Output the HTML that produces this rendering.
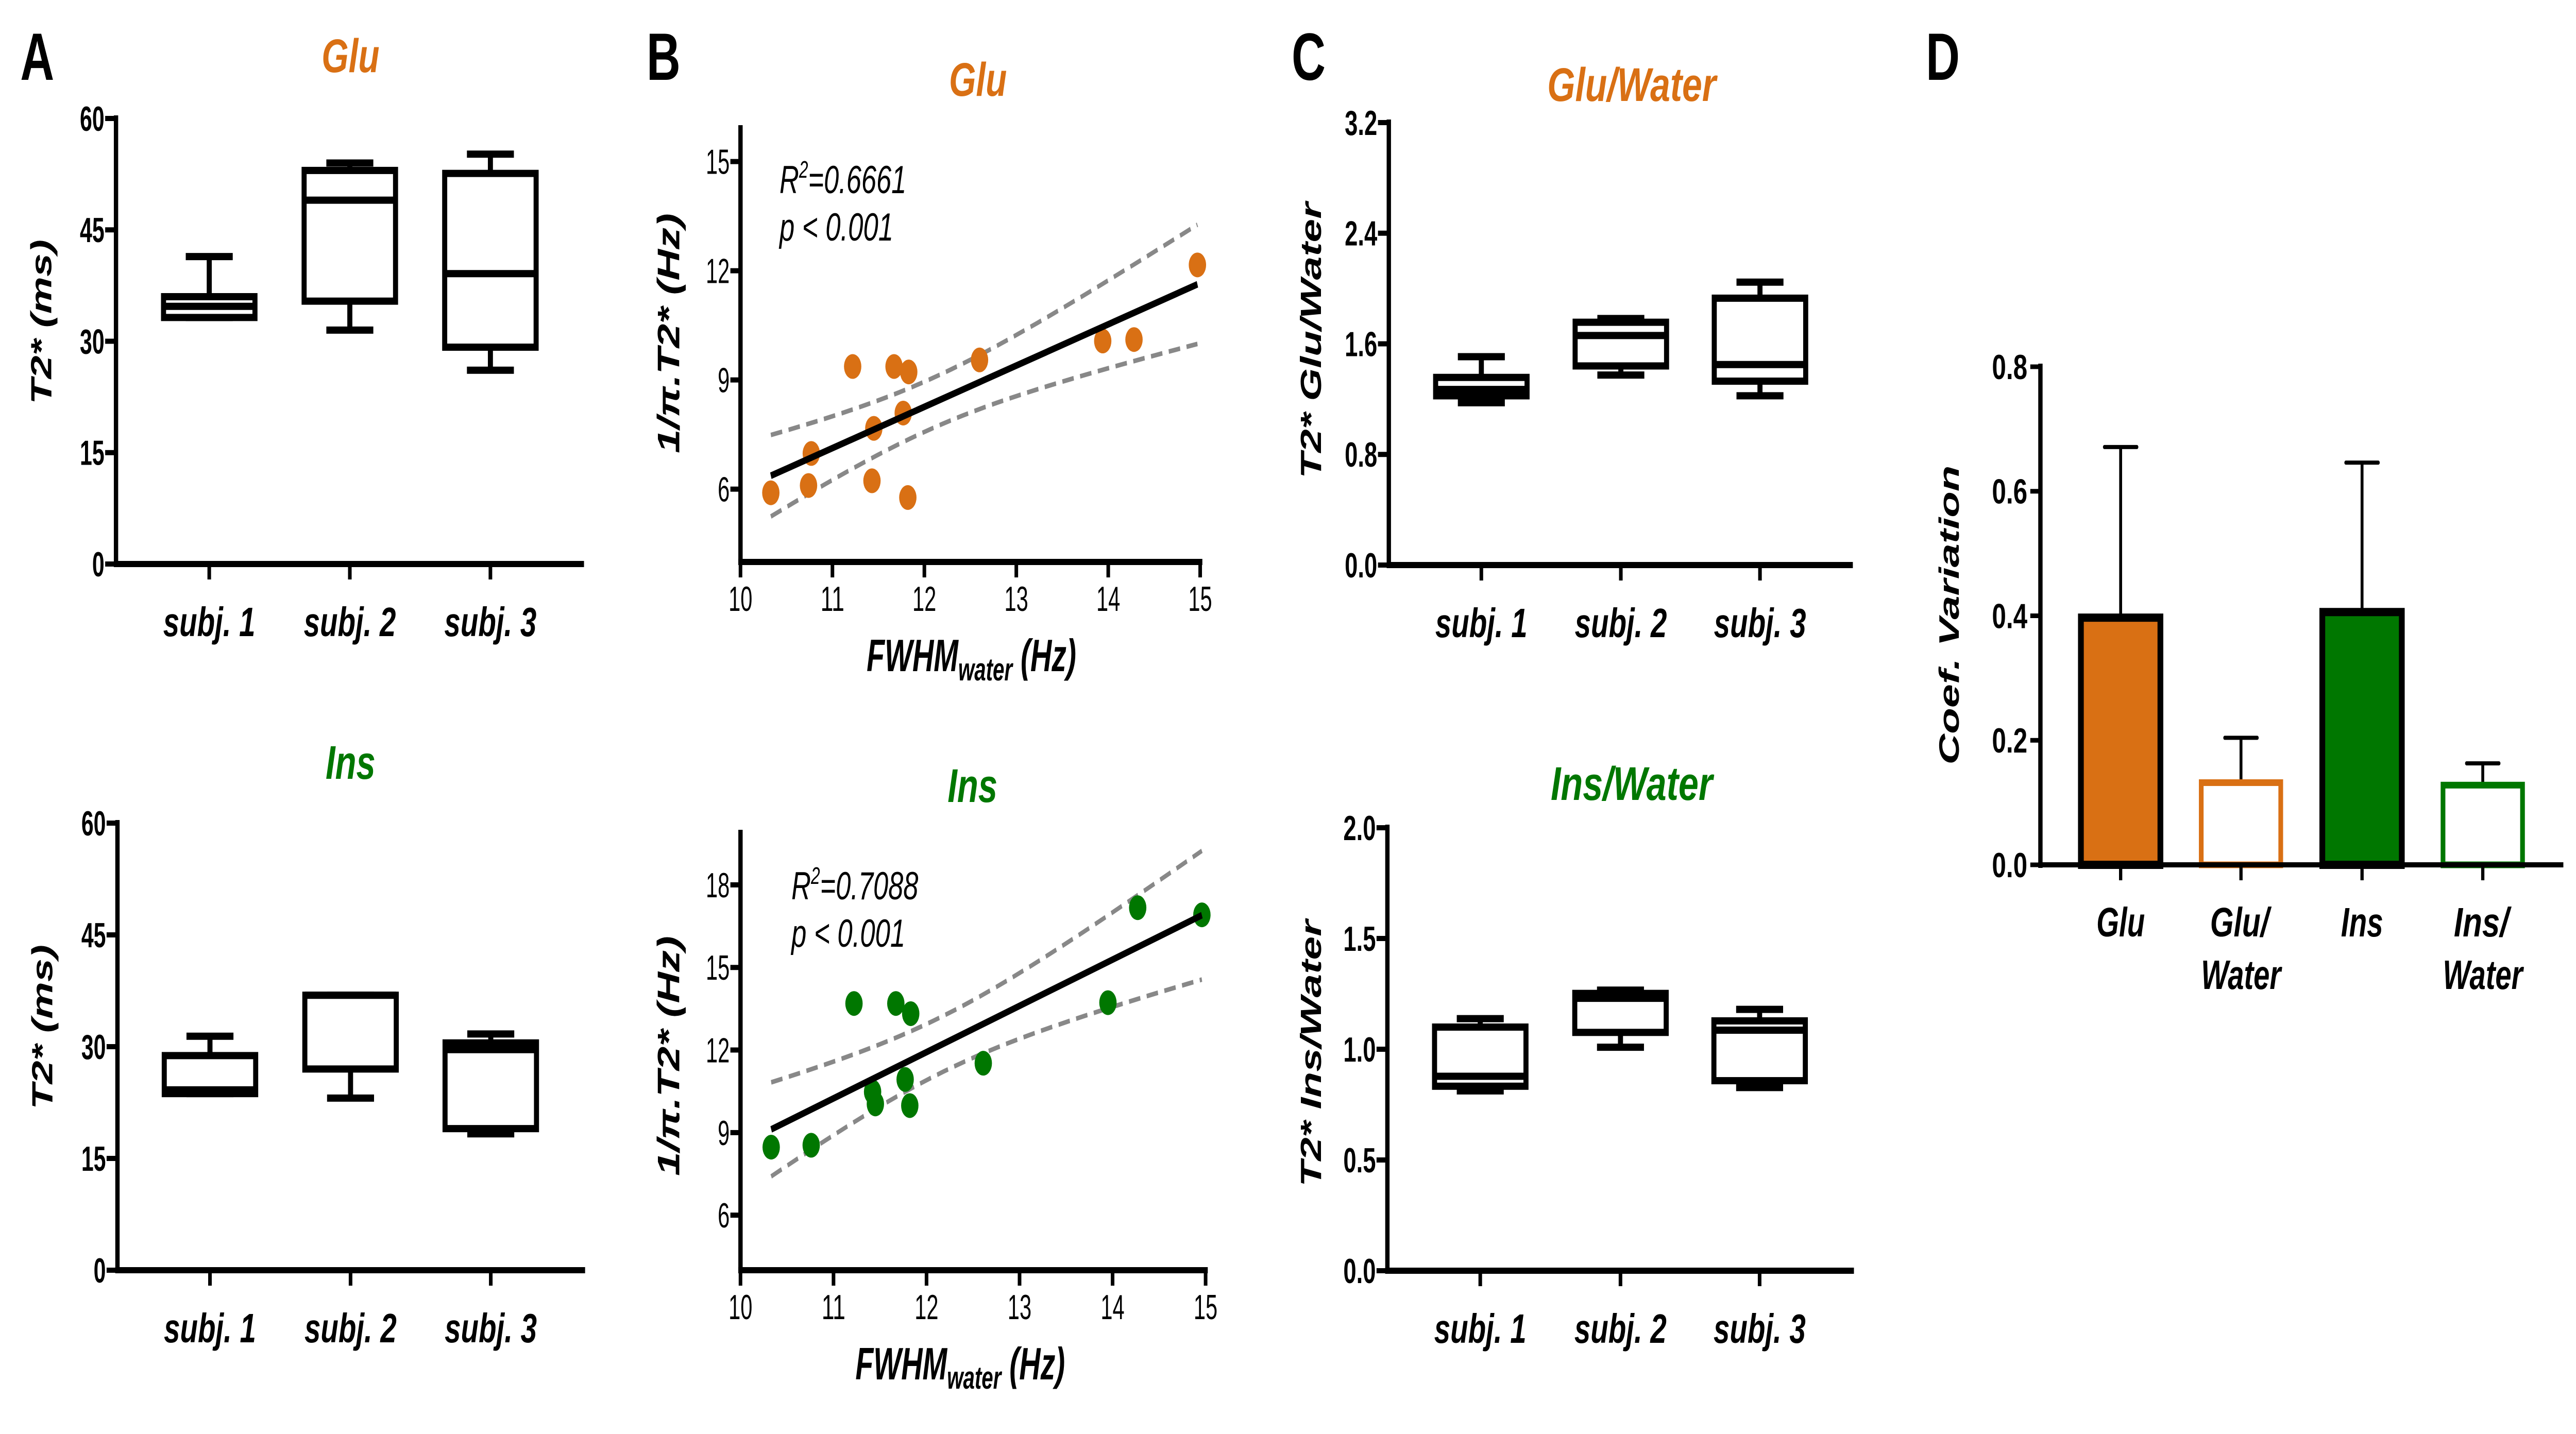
<!DOCTYPE html>
<html><head><meta charset="utf-8"><style>
html,body{margin:0;padding:0;background:#fff;overflow:hidden;width:100%;height:100%}
svg{display:block;width:100vw;height:100vh}
text{font-family:"Liberation Sans",sans-serif}
</style></head><body>
<svg id="fig" xmlns="http://www.w3.org/2000/svg" viewBox="0 0 7128 2784" preserveAspectRatio="none">
<rect width="7128" height="2784" fill="#fff"/>
</svg>
<script>
// ---------- DATA ----------
const subjects = ["subj. 1","subj. 2","subj. 3"];
// box stats: [min, q1, median, q3, max]
const gluT2 = [[33.2,33.2,34.7,36.0,41.4],[31.5,35.4,49.0,53.0,54.0],[26.1,29.2,39.1,52.6,55.2]];
const insT2 = [[23.7,23.7,24.2,28.8,31.4],[23.1,27.0,36.9,36.9,36.9],[18.3,19.0,29.6,30.5,31.7]];
const gluWater = [[1.174,1.224,1.27,1.357,1.507],[1.374,1.44,1.66,1.756,1.783],[1.224,1.33,1.45,1.93,2.046]];
const insWater = [[0.812,0.833,0.878,1.10,1.138],[1.009,1.076,1.23,1.252,1.267],[0.827,0.858,1.086,1.128,1.18]];
const t2Ticks = [0,15,30,45,60];
const gluWaterTicks = [0.0,0.8,1.6,2.4,3.2];
const insWaterTicks = [0.0,0.5,1.0,1.5,2.0];
// scatter
const fwhmGlu = [10.33,10.77,10.74,11.22,11.45,11.43,11.67,11.83,11.77,11.82,12.6,13.94,14.28,14.97];
const rateGlu = [5.9,6.98,6.1,9.37,7.67,6.23,9.37,9.22,8.09,5.77,9.55,10.07,10.11,12.16];
const fwhmIns = [10.33,10.76,11.22,11.42,11.45,11.67,11.83,11.77,11.82,12.61,13.95,14.27,14.96];
const rateIns = [8.47,8.54,13.69,10.48,10.04,13.69,13.32,10.93,9.98,11.52,13.72,17.17,16.91];
const xTicks = [10,11,12,13,14,15];
const gluRateTicks = [6,9,12,15];
const insRateTicks = [6,9,12,15,18];
// bar chart
const cvCats = [["Glu"],["Glu/","Water"],["Ins"],["Ins/","Water"]];
const cvMean = [0.397,0.132,0.406,0.128];
const cvErr = [0.671,0.204,0.646,0.163];
const cvTicks = [0.0,0.2,0.4,0.6,0.8];

const ORANGE="#D97014", GREEN="#007700";
const svg=document.getElementById('fig');
const NS="http://www.w3.org/2000/svg";
function el(tag,attrs,parent){const e=document.createElementNS(NS,tag);for(const k in attrs)e.setAttribute(k,attrs[k]);(parent||svg).appendChild(e);return e;}
function txt(s,x,y,o,parent){
  const t=el('text',{x:x,y:y,'font-size':o.size,'font-weight':o.bold?'bold':'normal','font-style':o.italic?'italic':'normal','text-anchor':o.anchor||'middle',fill:o.fill||'#000'},parent);
  if(o.len){t.setAttribute('textLength',o.len);t.setAttribute('lengthAdjust','spacingAndGlyphs');}
  if(o.rot){t.setAttribute('transform','rotate(-90 '+x+' '+y+')');}
  t.textContent=s;return t;
}
function fmt(v,d){return d?v.toFixed(d):String(v);}

// ---------- Box panels ----------
function boxPanel(cfg){
  const g=el('g',{});
  
  
  const y=v=>cfg.y0+(v-cfg.min)/(cfg.max-cfg.min)*(cfg.yTop-cfg.y0);
  const xs=cfg.centers;
  const ya=el('line',{x1:cfg.ax,y1:y(cfg.max)-6,x2:cfg.ax,y2:cfg.y0+6,stroke:'#000','stroke-width':12},g);
  
  const xa=el('line',{x1:cfg.ax-6,y1:cfg.y0,x2:cfg.xEnd,y2:cfg.y0,stroke:'#000','stroke-width':12},g);
  
  cfg.ticks.forEach(v=>{
    el('line',{x1:cfg.ax-30,y1:y(v),x2:cfg.ax,y2:y(v),stroke:'#000','stroke-width':10},g);
    const t=txt(fmt(v,cfg.dec),cfg.ax-32,y(v)+24,{size:68,bold:true,anchor:'end',len:cfg.tickLen*String(fmt(v,cfg.dec)).length},g);
    
  });
  subjects.forEach((s,i)=>{
    el('line',{x1:xs[i],y1:cfg.y0,x2:xs[i],y2:cfg.y0+30,stroke:'#000','stroke-width':10},g);
    const t=txt(s,xs[i],cfg.y0+140,{size:80,bold:true,italic:true,len:255},g);
    
  });
  const bw=253,cw=130;
  cfg.data.forEach((d,i)=>{
    const [mn,q1,md,q3,mx]=d;const cx=xs[i];
    const bg=el('g',{},g);
    
    
    el('line',{x1:cx,y1:y(mx),x2:cx,y2:y(q3),stroke:'#000','stroke-width':14},bg);
    el('line',{x1:cx,y1:y(mn),x2:cx,y2:y(q1),stroke:'#000','stroke-width':14},bg);
    el('line',{x1:cx-cw/2,y1:y(mx),x2:cx+cw/2,y2:y(mx),stroke:'#000','stroke-width':14},bg);
    el('line',{x1:cx-cw/2,y1:y(mn),x2:cx+cw/2,y2:y(mn),stroke:'#000','stroke-width':14},bg);
    el('rect',{x:cx-bw/2,y:y(q3),width:bw,height:Math.max(1,y(q1)-y(q3)),fill:'#fff',stroke:'#000','stroke-width':14},bg);
    el('line',{x1:cx-bw/2,y1:y(md),x2:cx+bw/2,y2:y(md),stroke:'#000','stroke-width':14},bg);
  });
  const tt=txt(cfg.title,cfg.titleX,cfg.titleY,{size:92,bold:true,italic:true,fill:cfg.color,len:cfg.titleLen},g);
  
  const yt=txt(cfg.ytitle,cfg.ytX,cfg.ytY,{size:80,bold:true,italic:true,rot:true,len:cfg.ytLen},g);
  
}
boxPanel({name:'panel-a-glu',ax:321,y0:1095,yTop:230,min:0,max:60,xEnd:1616,centers:[579,968,1357],ticks:t2Ticks,dec:0,tickLen:34,data:gluT2,
  title:'Glu',titleX:970,titleY:140,titleLen:160,color:ORANGE,ytitle:'T2* (ms)',ytX:142,ytY:625,ytLen:320});
boxPanel({name:'panel-a-ins',ax:325,y0:2466,yTop:1598,min:0,max:60,xEnd:1619,centers:[581,970,1358],ticks:t2Ticks,dec:0,tickLen:34,data:insT2,
  title:'Ins',titleX:970,titleY:1512,titleLen:138,color:GREEN,ytitle:'T2* (ms)',ytX:145,ytY:1994,ytLen:320});
boxPanel({name:'panel-c-glu-water',ax:3843,y0:1097,yTop:238,min:0,max:3.2,xEnd:5127,centers:[4099,4485,4870],ticks:gluWaterTicks,dec:1,tickLen:30,data:gluWater,
  title:'Glu/Water',titleX:4515,titleY:196,titleLen:467,color:ORANGE,ytitle:'T2* Glu/Water',ytX:3655,ytY:661,ytLen:536});
boxPanel({name:'panel-c-ins-water',ax:3839,y0:2467,yTop:1607,min:0,max:2.0,xEnd:5130,centers:[4096,4484,4869],ticks:insWaterTicks,dec:1,tickLen:30,data:insWater,
  title:'Ins/Water',titleX:4515,titleY:1553,titleLen:448,color:GREEN,ytitle:'T2* Ins/Water',ytX:3655,ytY:2045,ytLen:518});

// ---------- Scatter panels ----------
function scatterPanel(cfg){
  const g=el('g',{});
  
  
  const X=v=>cfg.x10+(v-10)/5*(cfg.x15-cfg.x10);
  const Y=v=>cfg.y0+(v-cfg.min)/(cfg.max-cfg.min)*(cfg.yTop-cfg.y0);
  const ya=el('line',{x1:cfg.x10,y1:Y(cfg.max),x2:cfg.x10,y2:cfg.y0+6,stroke:'#000','stroke-width':12},g);
  
  const xa=el('line',{x1:cfg.x10-6,y1:cfg.y0,x2:X(15)+6,y2:cfg.y0,stroke:'#000','stroke-width':12},g);
  
  cfg.yticks.forEach(v=>{
    el('line',{x1:cfg.x10-28,y1:Y(v),x2:cfg.x10,y2:Y(v),stroke:'#000','stroke-width':10},g);
    const t=txt(String(v),cfg.x10-30,Y(v)+24,{size:68,bold:false,anchor:'end',len:33*String(v).length},g);
    
  });
  xTicks.forEach(v=>{
    el('line',{x1:X(v),y1:cfg.y0,x2:X(v),y2:cfg.y0+30,stroke:'#000','stroke-width':10},g);
    const t=txt(String(v),X(v),cfg.y0+95,{size:68,len:66},g);
    
  });
  const xs=cfg.xs,ys=cfg.ys,n=xs.length;
  const mx=xs.reduce((a,b)=>a+b)/n,my=ys.reduce((a,b)=>a+b)/n;
  let sxx=0,sxy=0;for(let i=0;i<n;i++){sxx+=(xs[i]-mx)**2;sxy+=(xs[i]-mx)*(ys[i]-my);}
  const b=sxy/sxx,a=my-b*mx;
  let sse=0;for(let i=0;i<n;i++)sse+=(ys[i]-a-b*xs[i])**2;
  const s=Math.sqrt(sse/(n-2)),tv=n-2>=12?2.179:2.201;
  const x0=Math.min(...xs),x1=Math.max(...xs);
  for(const sign of [1,-1]){
    let d='';
    for(let k=0;k<=40;k++){const xv=x0+(x1-x0)*k/40;const yv=a+b*xv+sign*tv*s*Math.sqrt(1/n+(xv-mx)**2/sxx);d+=(k?'L':'M')+X(xv).toFixed(1)+' '+Y(yv).toFixed(1);}
    const p=el('path',{d:d,fill:'none',stroke:'#888','stroke-width':9,'stroke-dasharray':'32 18'},g);
    
    
  }
  xs.forEach((xv,i)=>{
    const c=el('circle',{cx:X(xv),cy:Y(ys[i]),r:24,fill:cfg.color},g);
    
    
  });
  const rl=el('line',{x1:X(x0),y1:Y(a+b*x0),x2:X(x1),y2:Y(a+b*x1),stroke:'#000','stroke-width':13},g);
  
  const r=el('text',{x:cfg.annX,y:cfg.annY,'font-size':76,'font-style':'italic',textLength:351,lengthAdjust:'spacingAndGlyphs'},g);
  
  r.innerHTML='R<tspan dy="-30" font-size="46">2</tspan><tspan dy="30">='+cfg.r2+'</tspan>';
  const p=txt('p < 0.001',cfg.annX,cfg.annY+92,{size:76,italic:true,anchor:'start',len:315},g);
  
  const xl=el('text',{x:cfg.xlX,y:cfg.y0+212,'font-size':88,'font-weight':'bold','font-style':'italic','text-anchor':'middle',textLength:580,lengthAdjust:'spacingAndGlyphs'},g);
  
  xl.innerHTML='FWHM<tspan dy="18" font-size="62">water</tspan><tspan dy="-18"> (Hz)</tspan>';
  const yt=txt('1/\u03C0.T2* (Hz)',cfg.ytX,cfg.ytY,{size:86,bold:true,italic:true,rot:true,len:466},g);
  
  const tt=txt(cfg.title,cfg.titleX,cfg.titleY,{size:92,bold:true,italic:true,fill:cfg.color,len:cfg.titleLen},g);
  
}
scatterPanel({name:'panel-b-glu',x10:2049,x15:3321,y0:1091,yTop:243,min:4,max:16,yticks:gluRateTicks,xs:fwhmGlu,ys:rateGlu,color:ORANGE,r2:'0.6661',
  annX:2157,annY:375,xlX:2688,ytX:1880,ytY:647,title:'Glu',titleX:2706,titleY:186,titleLen:160});
scatterPanel({name:'panel-b-ins',x10:2049,x15:3336,y0:2466,yTop:1611,min:4,max:20,yticks:insRateTicks,xs:fwhmIns,ys:rateIns,color:GREEN,r2:'0.7088',
  annX:2190,annY:1746,xlX:2657,ytX:1880,ytY:2050,title:'Ins',titleX:2691,titleY:1557,titleLen:138});

// ---------- Bar panel D ----------
const cvLabelLens = {"Glu":134,"Glu/":163,"Water":221,"Ins":117,"Ins/":152};
(function(){
  const g=el('g',{});
  
  
  const ax=5646,y0=1679,yTop=712,max=0.8;
  const Y=v=>y0+v/max*(yTop-y0);
  const centers=[5868,6201,6536,6870];
  const fills=[ORANGE,'#fff',GREEN,'#fff'];
  const strokes=['#000',ORANGE,'#000',GREEN];
  const sw=[16,13,16,13];
  const bw=220;
  cvMean.forEach((v,i)=>{
    const cx=centers[i];
    const e=el('line',{x1:cx,y1:Y(v),x2:cx,y2:Y(cvErr[i]),stroke:'#000','stroke-width':8},g);
    
    el('line',{x1:cx-45,y1:Y(cvErr[i]),x2:cx+45,y2:Y(cvErr[i]),stroke:'#000','stroke-width':8,'stroke-linecap':'round'},g);
    const r=el('rect',{x:cx-bw/2,y:Y(v),width:bw,height:y0-Y(v),fill:fills[i],stroke:strokes[i],'stroke-width':sw[i]},g);
    
    
  });
  const ya=el('line',{x1:ax,y1:yTop-6,x2:ax,y2:y0+6,stroke:'#000','stroke-width':12},g);
  
  const xa=el('line',{x1:ax-6,y1:y0,x2:7093,y2:y0,stroke:'#000','stroke-width':10},g);
  
  cvTicks.forEach(v=>{
    el('line',{x1:ax-28,y1:Y(v),x2:ax,y2:Y(v),stroke:'#000','stroke-width':9},g);
    const t=txt(v.toFixed(1),ax-36,Y(v)+24,{size:68,bold:true,anchor:'end',len:98},g);
    
  });
  cvCats.forEach((c,i)=>{
    el('line',{x1:centers[i],y1:y0,x2:centers[i],y2:y0+30,stroke:'#000','stroke-width':9},g);
    c.forEach((line,j)=>{
      const t=txt(line,centers[i]+(j===0&&c.length>1?-4:0),1818+j*102,{size:80,bold:true,italic:true,len:cvLabelLens[line]},g);
      
    });
  });
  const yt=txt('Coef. Variation',5420,1194,{size:78,bold:true,italic:true,rot:true,len:581},g);
  
})();

// panel letters
[['A',103],['B',1836],['C',3621],['D',5376]].forEach(([L,x])=>{
  const t=txt(L,x,155,{size:130,bold:true});
  
  
});
</script>
</body></html>
